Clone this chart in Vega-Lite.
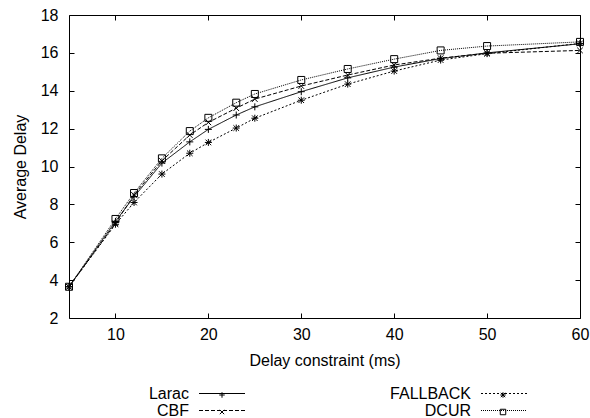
{
  "$schema": "https://vega.github.io/schema/vega-lite/v6.json",
  "width": 511,
  "height": 303,
  "autosize": "none",
  "padding": {"left": 69, "top": 15, "right": 10, "bottom": 100},
  "background": "white",
  "config": {
    "font": "Liberation Sans",
    "view": {"stroke": "black", "strokeWidth": 1},
    "axis": {
      "labelFont": "Liberation Sans",
      "labelFontSize": 16,
      "labelColor": "black",
      "labelFlush": false,
      "titleFont": "Liberation Sans",
      "titleFontSize": 16,
      "titleFontWeight": "normal",
      "titleColor": "black",
      "tickColor": "black",
      "tickWidth": 1,
      "domain": false,
      "grid": false
    },
    "legend": {
      "labelFont": "Liberation Sans",
      "labelFontSize": 16,
      "labelColor": "black"
    }
  },
  "data": {
    "values": [
      {"alg": "Larac", "ord": 1, "x": 5, "y": 3.65},
      {"alg": "Larac", "ord": 1, "x": 10, "y": 7.1},
      {"alg": "Larac", "ord": 1, "x": 12, "y": 8.4},
      {"alg": "Larac", "ord": 1, "x": 15, "y": 10.18},
      {"alg": "Larac", "ord": 1, "x": 18, "y": 11.3},
      {"alg": "Larac", "ord": 1, "x": 20, "y": 11.96},
      {"alg": "Larac", "ord": 1, "x": 23, "y": 12.72},
      {"alg": "Larac", "ord": 1, "x": 25, "y": 13.15},
      {"alg": "Larac", "ord": 1, "x": 30, "y": 13.95},
      {"alg": "Larac", "ord": 1, "x": 35, "y": 14.68},
      {"alg": "Larac", "ord": 1, "x": 40, "y": 15.25},
      {"alg": "Larac", "ord": 1, "x": 45, "y": 15.7},
      {"alg": "Larac", "ord": 1, "x": 50, "y": 16.0},
      {"alg": "Larac", "ord": 1, "x": 60, "y": 16.48},
      {"alg": "CBF", "ord": 2, "x": 5, "y": 3.65},
      {"alg": "CBF", "ord": 2, "x": 10, "y": 7.0},
      {"alg": "CBF", "ord": 2, "x": 12, "y": 8.5},
      {"alg": "CBF", "ord": 2, "x": 15, "y": 10.3},
      {"alg": "CBF", "ord": 2, "x": 18, "y": 11.66},
      {"alg": "CBF", "ord": 2, "x": 20, "y": 12.33},
      {"alg": "CBF", "ord": 2, "x": 23, "y": 13.08},
      {"alg": "CBF", "ord": 2, "x": 25, "y": 13.56},
      {"alg": "CBF", "ord": 2, "x": 30, "y": 14.25},
      {"alg": "CBF", "ord": 2, "x": 35, "y": 14.83},
      {"alg": "CBF", "ord": 2, "x": 40, "y": 15.36},
      {"alg": "CBF", "ord": 2, "x": 45, "y": 15.72},
      {"alg": "CBF", "ord": 2, "x": 50, "y": 15.98},
      {"alg": "CBF", "ord": 2, "x": 60, "y": 16.13},
      {"alg": "FALLBACK", "ord": 3, "x": 5, "y": 3.65},
      {"alg": "FALLBACK", "ord": 3, "x": 10, "y": 6.95},
      {"alg": "FALLBACK", "ord": 3, "x": 12, "y": 8.1},
      {"alg": "FALLBACK", "ord": 3, "x": 15, "y": 9.6},
      {"alg": "FALLBACK", "ord": 3, "x": 18, "y": 10.7},
      {"alg": "FALLBACK", "ord": 3, "x": 20, "y": 11.27},
      {"alg": "FALLBACK", "ord": 3, "x": 23, "y": 12.03},
      {"alg": "FALLBACK", "ord": 3, "x": 25, "y": 12.55},
      {"alg": "FALLBACK", "ord": 3, "x": 30, "y": 13.5},
      {"alg": "FALLBACK", "ord": 3, "x": 35, "y": 14.35},
      {"alg": "FALLBACK", "ord": 3, "x": 40, "y": 15.04},
      {"alg": "FALLBACK", "ord": 3, "x": 45, "y": 15.62},
      {"alg": "FALLBACK", "ord": 3, "x": 50, "y": 15.96},
      {"alg": "FALLBACK", "ord": 3, "x": 60, "y": 16.5},
      {"alg": "DCUR", "ord": 4, "x": 5, "y": 3.65},
      {"alg": "DCUR", "ord": 4, "x": 10, "y": 7.23},
      {"alg": "DCUR", "ord": 4, "x": 12, "y": 8.6},
      {"alg": "DCUR", "ord": 4, "x": 15, "y": 10.43},
      {"alg": "DCUR", "ord": 4, "x": 18, "y": 11.87},
      {"alg": "DCUR", "ord": 4, "x": 20, "y": 12.57},
      {"alg": "DCUR", "ord": 4, "x": 23, "y": 13.37},
      {"alg": "DCUR", "ord": 4, "x": 25, "y": 13.83},
      {"alg": "DCUR", "ord": 4, "x": 30, "y": 14.57},
      {"alg": "DCUR", "ord": 4, "x": 35, "y": 15.15},
      {"alg": "DCUR", "ord": 4, "x": 40, "y": 15.67},
      {"alg": "DCUR", "ord": 4, "x": 45, "y": 16.13},
      {"alg": "DCUR", "ord": 4, "x": 50, "y": 16.36},
      {"alg": "DCUR", "ord": 4, "x": 60, "y": 16.58}
    ]
  },
  "layer": [
    {
      "mark": {"type": "line", "color": "black", "strokeWidth": 1},
      "encoding": {
        "x": {
          "field": "x", "type": "quantitative",
          "scale": {"domain": [5, 60], "nice": false, "zero": false},
          "axis": {"orient": "bottom", "values": [10, 20, 30, 40, 50, 60], "tickSize": -5, "labelPadding": 13, "labelFlush": false, "title": "Delay constraint (ms)", "titlePadding": 10}
        },
        "y": {
          "field": "y", "type": "quantitative",
          "scale": {"domain": [2, 18], "nice": false, "zero": false},
          "axis": {"orient": "left", "values": [2, 4, 6, 8, 10, 12, 14, 16, 18], "tickSize": -5, "labelPadding": 16, "labelFlush": false, "title": "Average Delay", "titlePadding": 12}
        },
        "detail": {"field": "alg"},
        "strokeDash": {
          "field": "alg", "type": "nominal",
          "sort": {"field": "ord", "op": "min"},
          "scale": {"range": [[1, 0], [4, 2], [2, 2], [1, 1]]},
          "legend": {
            "orient": "none", "legendX": 112, "legendY": 370.5,
            "title": null, "columns": 2, "columnPadding": 143, "rowPadding": 1,
            "symbolType": "M-4,0H4", "symbolSize": 132.25, "symbolStrokeWidth": 1, "symbolStrokeColor": "black",
            "labelAlign": "right", "labelOffset": -41, "symbolOffset": 33
          }
        }
      }
    },
    {
      "mark": {"type": "point", "filled": false, "color": "black", "strokeWidth": 1, "size": 49, "opacity": 1},
      "encoding": {
        "x": {
          "field": "x", "type": "quantitative",
          "axis": {"orient": "top", "values": [10, 20, 30, 40, 50, 60], "tickSize": -5, "labels": false, "title": null}
        },
        "y": {
          "field": "y", "type": "quantitative",
          "axis": {"orient": "right", "values": [2, 4, 6, 8, 10, 12, 14, 16, 18], "tickSize": -5, "labels": false, "title": null}
        },
        "shape": {
          "field": "alg", "type": "nominal",
          "scale": {
            "domain": ["Larac", "CBF", "FALLBACK", "DCUR"],
            "range": [
              "M-1,0H1M0,-1V1",
              "M-0.8,-0.8L0.8,0.8M-0.8,0.8L0.8,-0.8",
              "M-1,0H1M0,-1V1M-0.8,-0.8L0.8,0.8M-0.8,0.8L0.8,-0.8",
              "M-1,-1H1V1H-1Z"
            ]
          },
          "legend": {
            "orient": "none", "legendX": 145, "legendY": 372,
            "title": null, "columns": 2, "columnPadding": 268, "rowPadding": 1,
            "symbolSize": 30, "symbolStrokeWidth": 1, "symbolStrokeColor": "black", "symbolFillColor": "transparent",
            "labelExpr": "''", "labelOffset": -8, "symbolOffset": 0
          }
        }
      }
    }
  ],
  "resolve": {"axis": {"x": "independent", "y": "independent"}}
}
